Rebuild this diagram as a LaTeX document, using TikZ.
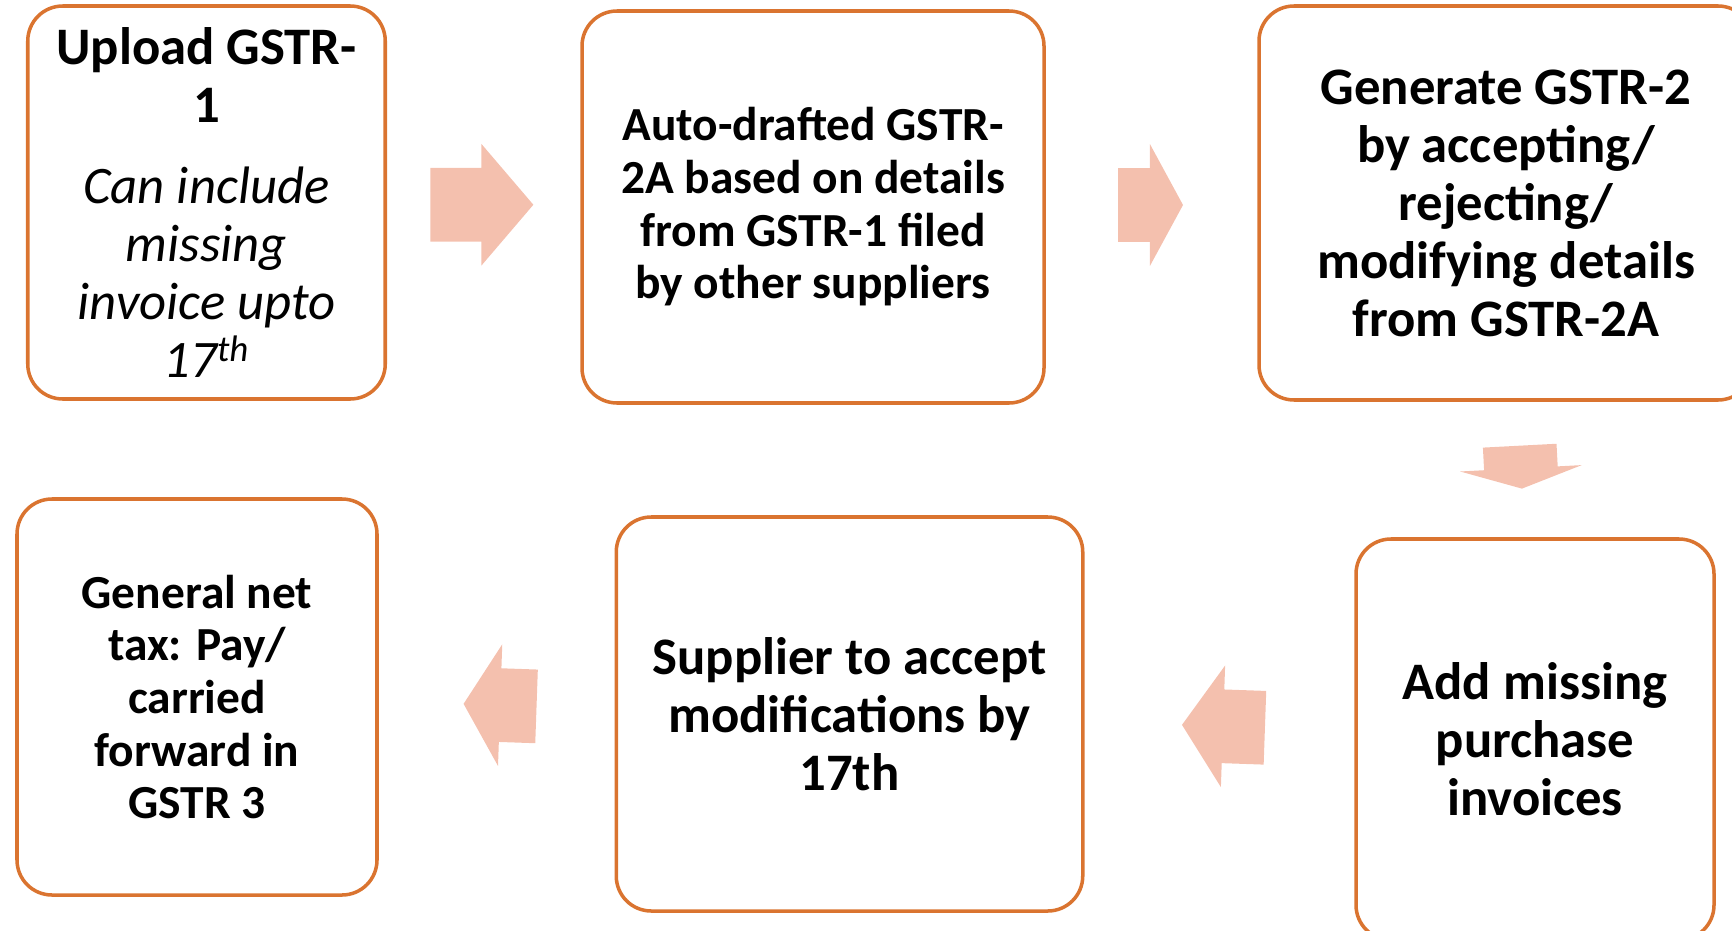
\documentclass[tikz,border=0pt]{standalone}
\usepackage{fontspec}
\setmainfont{Carlito}
\usetikzlibrary{shapes.arrows,calc}
\usepackage{xcolor}
\definecolor{boxorange}{HTML}{DA7430}
\definecolor{arrowpink}{HTML}{F4C0AE}

\begin{document}
\begin{tikzpicture}[
  stepbox/.style={draw=boxorange, line width=2pt, rounded corners=0.7cm, align=center, inner sep=0pt, font=\bfseries\fontsize{30}{33}\selectfont},
  smalltext/.style={font=\bfseries\fontsize{27}{30}\selectfont},
  flowarrow/.style={single arrow, fill=arrowpink, inner xsep=0pt, inner ysep=0.73cm, single arrow head extend=0.48cm}
]
  \useasboundingbox (0,0) rectangle (34.64,-18.62);

  % Top row of steps
  \node (upload) [stepbox, minimum width=7.15cm, minimum height=7.86cm] at (4.13,-4.05) {Upload GSTR-\\1\\[13pt]{\mdseries\itshape Can include}\\{\mdseries\itshape missing}\\{\mdseries\itshape invoice upto}\\{\mdseries\itshape 17\textsuperscript{th}}};
  \node (autodraft) [stepbox, smalltext, minimum width=9.24cm, minimum height=7.84cm] at (16.26,-4.14) {Auto-drafted GSTR-\\2A based on details\\from GSTR-1 filed\\by other suppliers};
  \node (gstrtwo) [stepbox, minimum width=9.88cm, minimum height=7.88cm] at (30.12,-4.06) {Generate GSTR-2\\by accepting/\\rejecting/\\modifying details\\from GSTR-2A};

  % Bottom row, read right to left
  \node (addmissing) [stepbox, minimum width=7.16cm, minimum height=8.02cm] at (30.70,-14.79) {Add missing\\purchase\\invoices};
  \node (supplier) [stepbox, minimum width=9.33cm, minimum height=7.88cm] at (16.99,-14.28) {Supplier to accept\\modifications by\\17th};
  \node (nettax) [stepbox, smalltext, minimum width=7.2cm, minimum height=7.92cm] at (3.94,-13.94) {General net\\tax: Pay/\\carried\\forward in\\GSTR 3};

  % Block arrows between the steps
  \node (a1) [flowarrow, minimum height=2.06cm, single arrow tip angle=99] at ($(upload.east)!0.5!(autodraft.west)+(-0.35,0)$) {};
  \node (a2) [flowarrow, minimum height=1.30cm, single arrow tip angle=123] at ($(autodraft.east)!0.5!(gstrtwo.west)+(-0.22,0)$) {};
  \node (a3) [flowarrow, minimum height=0.86cm, single arrow tip angle=143, rotate=-87] at ($(gstrtwo.south)!0.5!(addmissing.north)+(0,0.17)$) {};
  \node (a4) [flowarrow, minimum height=1.66cm, single arrow tip angle=112, rotate=178] at ($(addmissing.west)!0.5!(supplier.east)+(0.33,0)$) {};
  \node (a5) [flowarrow, minimum height=1.46cm, single arrow tip angle=118, rotate=178] at ($(supplier.west)!0.5!(nettax.east)+(0.29,0)$) {};
\end{tikzpicture}
\end{document}
